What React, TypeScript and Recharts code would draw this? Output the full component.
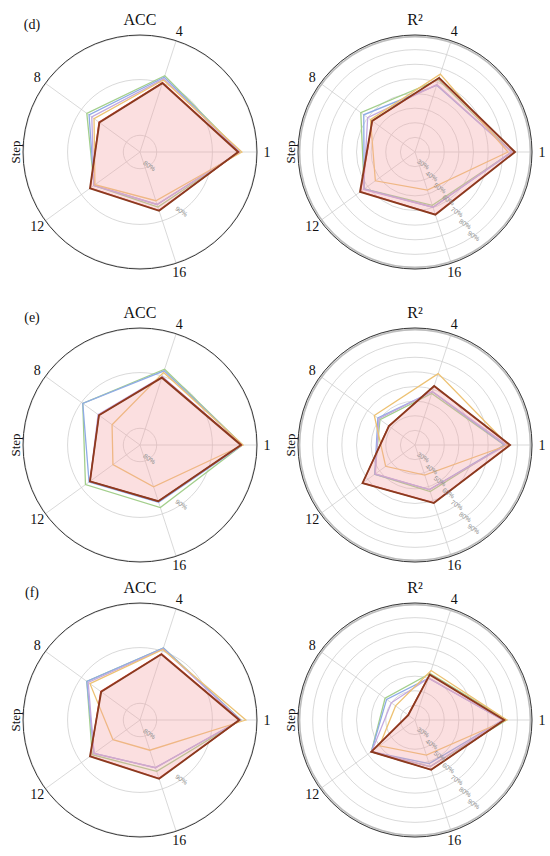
import React from "react"
import { PolarAngleAxis, PolarGrid, PolarRadiusAxis, Radar, RadarChart } from "recharts"

const steps = ["1", "4", "8", "12", "16"]

const seriesKeys = ["m1", "m2", "m3", "m4", "m5", "ours"]
const seriesColors = ["#a3cf8c", "#8fabe6", "#c3a9df", "#edc273", "#e2493f", "#8a3a1f"]

const accTicks = [80, 90, 97.9]
const accDomain = [77.4, 97.9]
const r2Ticks = [30, 40, 50, 60, 70, 80, 90, 100]
const r2Domain = [20, 100]

// rows = series (same order as seriesKeys), columns = steps
const accD = [
  [94.9, 91.4, 88.8, 87.2, 87.4],
  [94.9, 91.1, 88.3, 87.2, 86.9],
  [94.9, 90.8, 87.7, 87.2, 86.9],
  [95.3, 90.6, 87.2, 87.0, 86.2],
  [94.7, 90.1, 86.1, 88.0, 88.0],
  [94.6, 90.0, 86.0, 88.1, 88.1],
]
const r2D = [
  [86.3, 72.0, 65.8, 63.0, 58.3],
  [86.3, 67.9, 63.3, 63.0, 59.7],
  [86.0, 68.5, 60.0, 63.5, 59.7],
  [83.6, 76.0, 57.6, 53.5, 47.4],
  [88.0, 73.0, 56.0, 66.0, 64.8],
  [88.4, 73.3, 56.2, 66.5, 65.1],
]
const accE = [
  [95.4, 91.3, 89.7, 89.1, 88.8],
  [95.4, 91.0, 89.7, 88.3, 87.8],
  [95.2, 89.9, 86.3, 88.1, 87.6],
  [95.5, 90.7, 83.2, 83.0, 84.9],
  [95.2, 89.8, 86.1, 88.1, 87.6],
  [95.1, 89.7, 86.1, 88.1, 87.6],
]
const r2E = [
  [81.0, 57.0, 49.6, 54.0, 53.5],
  [81.2, 58.3, 51.4, 54.0, 52.1],
  [82.7, 58.5, 50.5, 53.5, 52.1],
  [83.6, 71.3, 54.4, 44.8, 41.6],
  [84.8, 62.2, 42.2, 64.2, 61.5],
  [85.0, 62.4, 42.0, 64.4, 61.7],
]
const accF = [
  [95.1, 90.6, 88.8, 87.6, 86.7],
  [95.1, 90.6, 88.8, 87.2, 86.0],
  [95.0, 90.4, 88.5, 87.2, 86.0],
  [96.0, 90.3, 88.1, 83.0, 82.7],
  [94.9, 89.5, 85.7, 88.0, 88.0],
  [94.8, 89.4, 85.6, 88.1, 88.1],
]
const r2F = [
  [82.7, 53.5, 45.3, 56.9, 53.5],
  [80.0, 50.1, 44.0, 56.9, 51.4],
  [80.0, 50.1, 40.0, 56.5, 53.5],
  [82.7, 55.6, 36.4, 50.0, 45.3],
  [81.2, 52.8, 25.9, 56.9, 55.6],
  [81.0, 52.6, 25.7, 56.9, 55.8],
]

const W = 275
const H = 290
const CX = 140
const CY = 152
const R = 117
const serif = "'Liberation Serif', 'Times New Roman', serif"

// the chart runs counter-clockwise from the right: 1, 4, 8, 12, 16.
// recharts draws clockwise, so feed the steps as 1, 16, 12, 8, 4
const drawOrder = [0, 4, 3, 2, 1]

function toRows(matrix: number[][]) {
  return drawOrder.map((i) => {
    const row: Record<string, any> = { step: steps[i] }
    seriesKeys.forEach((k, s) => (row[k] = matrix[s][i]))
    return row
  })
}

function AngleTick(props: any) {
  const { x, y, payload } = props
  return (
    <text x={x} y={y} textAnchor="middle" dominantBaseline="central" fontFamily={serif} fontSize={14} fill="#111">
      {payload.value}
    </text>
  )
}

function radiusTick(max: number) {
  return (props: any) => {
    const { x, y, payload } = props
    if (payload.value >= max) return <g />
    return (
      <text
        x={x}
        y={y}
        transform={`rotate(34 ${x} ${y})`}
        textAnchor="middle"
        dominantBaseline="central"
        fontFamily="'Liberation Sans', sans-serif"
        fontSize={6.5}
        fill="#8c8c8c"
      >
        {payload.value}%
      </text>
    )
  }
}

function Panel({ left, top, matrix, kind, letter }: any) {
  const isAcc = kind === "acc"
  const domain = isAcc ? accDomain : r2Domain
  const ticks = isAcc ? accTicks : r2Ticks
  return (
    <div style={{ position: "absolute", left, top, width: W, height: H }}>
      <RadarChart
        width={W}
        height={H}
        data={toRows(matrix)}
        cx={CX}
        cy={CY}
        outerRadius={R}
        startAngle={0}
        endAngle={-360}
        margin={{ top: 0, right: 0, bottom: 0, left: 0 }}
      >
        <PolarGrid gridType="circle" stroke="#cfcfcf" strokeWidth={0.8} />
        <PolarAngleAxis dataKey="step" tick={<AngleTick />} tickLine={false} axisLine={false} tickSize={10} />
        <PolarRadiusAxis
          type="number"
          angle={-55}
          domain={domain}
          ticks={ticks}
          allowDataOverflow
          axisLine={false}
          tickLine={false}
          tick={radiusTick(domain[1])}
        />
        {seriesKeys.map((k, s) => (
          <Radar
            key={k}
            dataKey={k}
            stroke={seriesColors[s]}
            strokeWidth={k === "ours" ? 1.8 : 1.3}
            fill={k === "ours" ? "#f4a3a6" : "none"}
            fillOpacity={k === "ours" ? 0.35 : 0}
            dot={false}
            isAnimationActive={false}
          />
        ))}
      </RadarChart>
      <svg width={W} height={H} style={{ position: "absolute", left: 0, top: 0, pointerEvents: "none" }}>
        {!isAcc && <circle cx={CX} cy={CY} r={R - 1.6} fill="none" stroke="#bdbdbd" strokeWidth={1.6} />}
        <circle cx={CX} cy={CY} r={R} fill="none" stroke="#3a3a3a" strokeWidth={1} />
        <text x={CX} y={CY - 133} textAnchor="middle" dominantBaseline="central" fontFamily={serif} fontSize={16} fill="#111">
          {isAcc ? "ACC" : "R²"}
        </text>
        <text
          x={15}
          y={CY}
          textAnchor="middle"
          dominantBaseline="central"
          fontFamily={serif}
          fontSize={13}
          fill="#111"
          transform={`rotate(-90 15 ${CY})`}
        >
          Step
        </text>
        {letter && (
          <text x={32} y={24} textAnchor="middle" dominantBaseline="central" fontFamily={serif} fontSize={14} fill="#111">
            {letter}
          </text>
        )}
      </svg>
    </div>
  )
}

export default function App() {
  return (
    <div style={{ position: "absolute", left: 0, top: 0, width: 550, height: 856, background: "#fff" }}>
      <Panel left={0} top={0} matrix={accD} kind="acc" letter="(d)" />
      <Panel left={275} top={0} matrix={r2D} kind="r2" />
      <Panel left={0} top={293} matrix={accE} kind="acc" letter="(e)" />
      <Panel left={275} top={293} matrix={r2E} kind="r2" />
      <Panel left={0} top={568} matrix={accF} kind="acc" letter="(f)" />
      <Panel left={275} top={568} matrix={r2F} kind="r2" />
    </div>
  )
}
